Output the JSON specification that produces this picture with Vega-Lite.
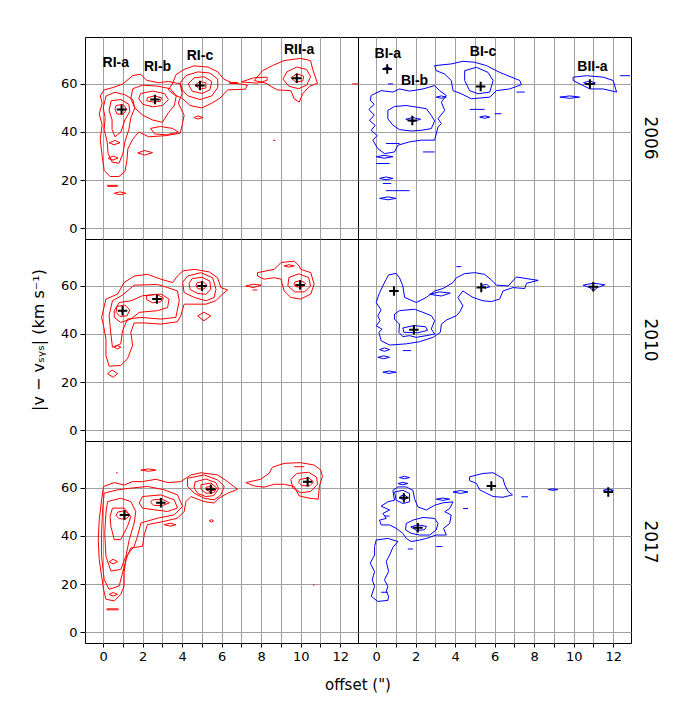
{
"$schema": "https://vega.github.io/schema/vega-lite/v6.json",
"padding": {"left": 30, "top": 36, "right": 5, "bottom": 5},
"background": "white",
"bounds": "flush",
"data": {"values": [
{"r":"2006","s":"R","c":"a1","x":0.05,"y":57.5},{"r":"2006","s":"R","c":"a1","x":0.5,"y":58.5},{"r":"2006","s":"R","c":"a1","x":1.0,"y":60},{"r":"2006","s":"R","c":"a1","x":1.5,"y":63.5},{"r":"2006","s":"R","c":"a1","x":1.9,"y":64},{"r":"2006","s":"R","c":"a1","x":2.2,"y":61.5},{"r":"2006","s":"R","c":"a1","x":2.8,"y":60.5},{"r":"2006","s":"R","c":"a1","x":3.3,"y":61},{"r":"2006","s":"R","c":"a1","x":3.9,"y":60},{"r":"2006","s":"R","c":"a1","x":4.0,"y":56},{"r":"2006","s":"R","c":"a1","x":3.8,"y":52},{"r":"2006","s":"R","c":"a1","x":4.1,"y":47},{"r":"2006","s":"R","c":"a1","x":4.0,"y":43},{"r":"2006","s":"R","c":"a1","x":3.9,"y":39.5},{"r":"2006","s":"R","c":"a1","x":3.2,"y":38.5},{"r":"2006","s":"R","c":"a1","x":2.3,"y":38},{"r":"2006","s":"R","c":"a1","x":1.8,"y":40},{"r":"2006","s":"R","c":"a1","x":1.5,"y":37},{"r":"2006","s":"R","c":"a1","x":1.25,"y":33},{"r":"2006","s":"R","c":"a1","x":1.2,"y":28},{"r":"2006","s":"R","c":"a1","x":1.1,"y":23.5},{"r":"2006","s":"R","c":"a1","x":0.8,"y":21.5},{"r":"2006","s":"R","c":"a1","x":0.35,"y":21.5},{"r":"2006","s":"R","c":"a1","x":0.05,"y":24},{"r":"2006","s":"R","c":"a1","x":-0.05,"y":30},{"r":"2006","s":"R","c":"a1","x":-0.15,"y":37},{"r":"2006","s":"R","c":"a1","x":-0.05,"y":43},{"r":"2006","s":"R","c":"a1","x":-0.2,"y":47.5},{"r":"2006","s":"R","c":"a1","x":-0.05,"y":52},{"r":"2006","s":"R","c":"a1","x":-0.15,"y":55},{"r":"2006","s":"R","c":"a1","x":0.05,"y":57.5},
{"r":"2006","s":"R","c":"a2","x":0.15,"y":55},{"r":"2006","s":"R","c":"a2","x":0.6,"y":56.5},{"r":"2006","s":"R","c":"a2","x":1.1,"y":55.5},{"r":"2006","s":"R","c":"a2","x":1.5,"y":53.5},{"r":"2006","s":"R","c":"a2","x":1.6,"y":50},{"r":"2006","s":"R","c":"a2","x":1.4,"y":46},{"r":"2006","s":"R","c":"a2","x":1.3,"y":41},{"r":"2006","s":"R","c":"a2","x":1.1,"y":36},{"r":"2006","s":"R","c":"a2","x":1.0,"y":31},{"r":"2006","s":"R","c":"a2","x":0.8,"y":27},{"r":"2006","s":"R","c":"a2","x":0.45,"y":27.5},{"r":"2006","s":"R","c":"a2","x":0.25,"y":31},{"r":"2006","s":"R","c":"a2","x":0.2,"y":36},{"r":"2006","s":"R","c":"a2","x":0.05,"y":41},{"r":"2006","s":"R","c":"a2","x":0.1,"y":46},{"r":"2006","s":"R","c":"a2","x":0.0,"y":50},{"r":"2006","s":"R","c":"a2","x":0.15,"y":55},
{"r":"2006","s":"R","c":"a3","x":0.4,"y":53},{"r":"2006","s":"R","c":"a3","x":0.9,"y":53.5},{"r":"2006","s":"R","c":"a3","x":1.3,"y":51.5},{"r":"2006","s":"R","c":"a3","x":1.35,"y":48.5},{"r":"2006","s":"R","c":"a3","x":1.1,"y":45},{"r":"2006","s":"R","c":"a3","x":0.9,"y":40},{"r":"2006","s":"R","c":"a3","x":0.6,"y":38},{"r":"2006","s":"R","c":"a3","x":0.45,"y":41},{"r":"2006","s":"R","c":"a3","x":0.45,"y":45},{"r":"2006","s":"R","c":"a3","x":0.3,"y":49},{"r":"2006","s":"R","c":"a3","x":0.4,"y":53},
{"r":"2006","s":"R","c":"a4","x":0.65,"y":51},{"r":"2006","s":"R","c":"a4","x":1.0,"y":51.5},{"r":"2006","s":"R","c":"a4","x":1.2,"y":49.5},{"r":"2006","s":"R","c":"a4","x":1.0,"y":47.3},{"r":"2006","s":"R","c":"a4","x":0.7,"y":47.5},{"r":"2006","s":"R","c":"a4","x":0.6,"y":49.5},{"r":"2006","s":"R","c":"a4","x":0.65,"y":51},
{"r":"2006","s":"R","c":"a5","x":0.25,"y":29},{"r":"2006","s":"R","c":"a5","x":0.5,"y":30},{"r":"2006","s":"R","c":"a5","x":0.75,"y":29.2},{"r":"2006","s":"R","c":"a5","x":0.5,"y":28.3},{"r":"2006","s":"R","c":"a5","x":0.25,"y":29},
{"r":"2006","s":"R","c":"a6","x":0.3,"y":35.5},{"r":"2006","s":"R","c":"a6","x":0.6,"y":36.5},{"r":"2006","s":"R","c":"a6","x":0.85,"y":35.5},{"r":"2006","s":"R","c":"a6","x":0.55,"y":34.7},{"r":"2006","s":"R","c":"a6","x":0.3,"y":35.5},
{"r":"2006","s":"R","c":"a7","x":1.5,"y":58},{"r":"2006","s":"R","c":"a7","x":2.0,"y":59.5},{"r":"2006","s":"R","c":"a7","x":2.8,"y":59},{"r":"2006","s":"R","c":"a7","x":3.4,"y":58},{"r":"2006","s":"R","c":"a7","x":3.7,"y":55},{"r":"2006","s":"R","c":"a7","x":3.6,"y":51},{"r":"2006","s":"R","c":"a7","x":3.3,"y":48},{"r":"2006","s":"R","c":"a7","x":3.0,"y":44},{"r":"2006","s":"R","c":"a7","x":2.5,"y":45},{"r":"2006","s":"R","c":"a7","x":2.0,"y":47},{"r":"2006","s":"R","c":"a7","x":1.6,"y":50},{"r":"2006","s":"R","c":"a7","x":1.4,"y":54},{"r":"2006","s":"R","c":"a7","x":1.5,"y":58},
{"r":"2006","s":"R","c":"a8","x":1.9,"y":56},{"r":"2006","s":"R","c":"a8","x":2.5,"y":57},{"r":"2006","s":"R","c":"a8","x":3.1,"y":56},{"r":"2006","s":"R","c":"a8","x":3.3,"y":53.5},{"r":"2006","s":"R","c":"a8","x":3.0,"y":51},{"r":"2006","s":"R","c":"a8","x":2.5,"y":50.5},{"r":"2006","s":"R","c":"a8","x":2.0,"y":51.5},{"r":"2006","s":"R","c":"a8","x":1.8,"y":54},{"r":"2006","s":"R","c":"a8","x":1.9,"y":56},
{"r":"2006","s":"R","c":"a9","x":2.25,"y":54.3},{"r":"2006","s":"R","c":"a9","x":2.6,"y":55},{"r":"2006","s":"R","c":"a9","x":2.95,"y":54.2},{"r":"2006","s":"R","c":"a9","x":2.9,"y":52.8},{"r":"2006","s":"R","c":"a9","x":2.55,"y":52.4},{"r":"2006","s":"R","c":"a9","x":2.2,"y":53},{"r":"2006","s":"R","c":"a9","x":2.25,"y":54.3},
{"r":"2006","s":"R","c":"a10","x":2.4,"y":41.5},{"r":"2006","s":"R","c":"a10","x":2.9,"y":42.3},{"r":"2006","s":"R","c":"a10","x":3.5,"y":41.5},{"r":"2006","s":"R","c":"a10","x":3.8,"y":40},{"r":"2006","s":"R","c":"a10","x":3.2,"y":38.8},{"r":"2006","s":"R","c":"a10","x":2.6,"y":39.2},{"r":"2006","s":"R","c":"a10","x":2.4,"y":41.5},
{"r":"2006","s":"R","c":"a11","x":1.75,"y":31.3},{"r":"2006","s":"R","c":"a11","x":2.1,"y":32.3},{"r":"2006","s":"R","c":"a11","x":2.5,"y":31.4},{"r":"2006","s":"R","c":"a11","x":2.1,"y":30.4},{"r":"2006","s":"R","c":"a11","x":1.75,"y":31.3},
{"r":"2006","s":"R","c":"a12","x":0.22,"y":17.8},{"r":"2006","s":"R","c":"a12","x":0.72,"y":17.8},{"r":"2006","s":"R","c":"a12","x":0.72,"y":17.4},{"r":"2006","s":"R","c":"a12","x":0.22,"y":17.4},{"r":"2006","s":"R","c":"a12","x":0.22,"y":17.8},
{"r":"2006","s":"R","c":"a13","x":0.56,"y":14.5},{"r":"2006","s":"R","c":"a13","x":0.85,"y":15.1},{"r":"2006","s":"R","c":"a13","x":1.15,"y":14.5},{"r":"2006","s":"R","c":"a13","x":0.85,"y":13.9},{"r":"2006","s":"R","c":"a13","x":0.56,"y":14.5},
{"r":"2006","s":"R","c":"a14","x":3.5,"y":60},{"r":"2006","s":"R","c":"a14","x":3.7,"y":64},{"r":"2006","s":"R","c":"a14","x":4.1,"y":66},{"r":"2006","s":"R","c":"a14","x":4.6,"y":67.5},{"r":"2006","s":"R","c":"a14","x":5.3,"y":67},{"r":"2006","s":"R","c":"a14","x":5.8,"y":65},{"r":"2006","s":"R","c":"a14","x":6.1,"y":62},{"r":"2006","s":"R","c":"a14","x":6.5,"y":60.5},{"r":"2006","s":"R","c":"a14","x":7.3,"y":59.5},{"r":"2006","s":"R","c":"a14","x":7.2,"y":57.8},{"r":"2006","s":"R","c":"a14","x":6.3,"y":57.5},{"r":"2006","s":"R","c":"a14","x":5.9,"y":54},{"r":"2006","s":"R","c":"a14","x":5.5,"y":52},{"r":"2006","s":"R","c":"a14","x":5.0,"y":50},{"r":"2006","s":"R","c":"a14","x":4.4,"y":51},{"r":"2006","s":"R","c":"a14","x":4.0,"y":54},{"r":"2006","s":"R","c":"a14","x":3.6,"y":55.5},{"r":"2006","s":"R","c":"a14","x":3.3,"y":57.5},{"r":"2006","s":"R","c":"a14","x":3.5,"y":60},
{"r":"2006","s":"R","c":"a15","x":3.9,"y":60.5},{"r":"2006","s":"R","c":"a15","x":4.2,"y":63.5},{"r":"2006","s":"R","c":"a15","x":4.8,"y":65},{"r":"2006","s":"R","c":"a15","x":5.4,"y":64.5},{"r":"2006","s":"R","c":"a15","x":5.8,"y":62},{"r":"2006","s":"R","c":"a15","x":5.8,"y":58.5},{"r":"2006","s":"R","c":"a15","x":5.5,"y":55},{"r":"2006","s":"R","c":"a15","x":4.9,"y":53.5},{"r":"2006","s":"R","c":"a15","x":4.3,"y":55},{"r":"2006","s":"R","c":"a15","x":4.0,"y":57.5},{"r":"2006","s":"R","c":"a15","x":3.9,"y":60.5},
{"r":"2006","s":"R","c":"a16","x":4.3,"y":60},{"r":"2006","s":"R","c":"a16","x":4.6,"y":62.5},{"r":"2006","s":"R","c":"a16","x":5.1,"y":63},{"r":"2006","s":"R","c":"a16","x":5.5,"y":61},{"r":"2006","s":"R","c":"a16","x":5.4,"y":57.5},{"r":"2006","s":"R","c":"a16","x":5.0,"y":56},{"r":"2006","s":"R","c":"a16","x":4.5,"y":57},{"r":"2006","s":"R","c":"a16","x":4.3,"y":60},
{"r":"2006","s":"R","c":"a17","x":4.65,"y":59.5},{"r":"2006","s":"R","c":"a17","x":4.9,"y":61},{"r":"2006","s":"R","c":"a17","x":5.2,"y":60.5},{"r":"2006","s":"R","c":"a17","x":5.2,"y":58.3},{"r":"2006","s":"R","c":"a17","x":4.9,"y":57.8},{"r":"2006","s":"R","c":"a17","x":4.65,"y":59.5},
{"r":"2006","s":"R","c":"a18","x":4.6,"y":46},{"r":"2006","s":"R","c":"a18","x":4.8,"y":46.7},{"r":"2006","s":"R","c":"a18","x":5.05,"y":46},{"r":"2006","s":"R","c":"a18","x":4.8,"y":45.4},{"r":"2006","s":"R","c":"a18","x":4.6,"y":46},
{"r":"2006","s":"R","c":"a19","x":6.4,"y":60.6},{"r":"2006","s":"R","c":"a19","x":6.8,"y":60.6},{"r":"2006","s":"R","c":"a19","x":6.8,"y":60.2},{"r":"2006","s":"R","c":"a19","x":6.4,"y":60.2},{"r":"2006","s":"R","c":"a19","x":6.4,"y":60.6},
{"r":"2006","s":"R","c":"a20","x":7.0,"y":60.8},{"r":"2006","s":"R","c":"a20","x":7.6,"y":62.5},{"r":"2006","s":"R","c":"a20","x":8.3,"y":62.8},{"r":"2006","s":"R","c":"a20","x":8.3,"y":61.5},{"r":"2006","s":"R","c":"a20","x":7.8,"y":60.3},{"r":"2006","s":"R","c":"a20","x":7.0,"y":60.8},
{"r":"2006","s":"R","c":"a21","x":7.65,"y":61.4},{"r":"2006","s":"R","c":"a21","x":8.07,"y":65.5},{"r":"2006","s":"R","c":"a21","x":8.57,"y":67.6},{"r":"2006","s":"R","c":"a21","x":9.16,"y":69.7},{"r":"2006","s":"R","c":"a21","x":10.0,"y":70.6},{"r":"2006","s":"R","c":"a21","x":10.5,"y":69.7},{"r":"2006","s":"R","c":"a21","x":10.6,"y":66.2},{"r":"2006","s":"R","c":"a21","x":10.85,"y":60.3},{"r":"2006","s":"R","c":"a21","x":10.43,"y":58.9},{"r":"2006","s":"R","c":"a21","x":10.1,"y":55.9},{"r":"2006","s":"R","c":"a21","x":9.92,"y":52.4},{"r":"2006","s":"R","c":"a21","x":9.67,"y":53.8},{"r":"2006","s":"R","c":"a21","x":9.5,"y":57.2},{"r":"2006","s":"R","c":"a21","x":8.83,"y":57.5},{"r":"2006","s":"R","c":"a21","x":8.5,"y":58.9},{"r":"2006","s":"R","c":"a21","x":8.24,"y":60.3},{"r":"2006","s":"R","c":"a21","x":7.65,"y":61.4},
{"r":"2006","s":"R","c":"a22","x":9.1,"y":62},{"r":"2006","s":"R","c":"a22","x":9.3,"y":65},{"r":"2006","s":"R","c":"a22","x":9.8,"y":67},{"r":"2006","s":"R","c":"a22","x":10.3,"y":66},{"r":"2006","s":"R","c":"a22","x":10.5,"y":63},{"r":"2006","s":"R","c":"a22","x":10.3,"y":59.5},{"r":"2006","s":"R","c":"a22","x":9.9,"y":58},{"r":"2006","s":"R","c":"a22","x":9.4,"y":59},{"r":"2006","s":"R","c":"a22","x":9.1,"y":62},
{"r":"2006","s":"R","c":"a23","x":9.5,"y":62.5},{"r":"2006","s":"R","c":"a23","x":9.8,"y":64.2},{"r":"2006","s":"R","c":"a23","x":10.15,"y":63.2},{"r":"2006","s":"R","c":"a23","x":10.1,"y":61.2},{"r":"2006","s":"R","c":"a23","x":9.75,"y":60.8},{"r":"2006","s":"R","c":"a23","x":9.5,"y":62.5},
{"r":"2006","s":"R","c":"a24","x":8.6,"y":36.5},{"r":"2006","s":"R","c":"a24","x":8.72,"y":36.5},
{"r":"2006","s":"R","c":"a25","x":12.6,"y":60},{"r":"2006","s":"R","c":"a25","x":12.9,"y":60},
{"r":"2006","s":"R","m":1,"x":0.93,"y":49.4},{"r":"2006","s":"R","m":1,"x":2.62,"y":53.5},{"r":"2006","s":"R","m":1,"x":4.9,"y":59.3},{"r":"2006","s":"R","m":1,"x":9.8,"y":62.3},
{"r":"2006","s":"R","t":"RI-a","x":0.64,"y":68.7},{"r":"2006","s":"R","t":"RI-b","x":2.75,"y":67.2},{"r":"2006","s":"R","t":"RI-c","x":4.9,"y":71.7},{"r":"2006","s":"R","t":"RII-a","x":9.92,"y":74},

{"r":"2006","s":"B","c":"b1","x":-0.37,"y":49.4},{"r":"2006","s":"B","c":"b1","x":-0.1,"y":51.5},{"r":"2006","s":"B","c":"b1","x":-0.3,"y":53.2},{"r":"2006","s":"B","c":"b1","x":-0.25,"y":55.2},{"r":"2006","s":"B","c":"b1","x":0.25,"y":57.2},{"r":"2006","s":"B","c":"b1","x":0.85,"y":56.6},{"r":"2006","s":"B","c":"b1","x":1.18,"y":57.9},{"r":"2006","s":"B","c":"b1","x":1.7,"y":57},{"r":"2006","s":"B","c":"b1","x":2.37,"y":57.9},{"r":"2006","s":"B","c":"b1","x":2.96,"y":59.3},{"r":"2006","s":"B","c":"b1","x":3.21,"y":57.2},{"r":"2006","s":"B","c":"b1","x":3.55,"y":55.2},{"r":"2006","s":"B","c":"b1","x":3.3,"y":52.4},{"r":"2006","s":"B","c":"b1","x":3.47,"y":49},{"r":"2006","s":"B","c":"b1","x":3.13,"y":45.5},{"r":"2006","s":"B","c":"b1","x":3.3,"y":43.5},{"r":"2006","s":"B","c":"b1","x":3.13,"y":42.1},{"r":"2006","s":"B","c":"b1","x":2.96,"y":36.6},{"r":"2006","s":"B","c":"b1","x":2.28,"y":36.6},{"r":"2006","s":"B","c":"b1","x":1.69,"y":35.9},{"r":"2006","s":"B","c":"b1","x":1.1,"y":34.5},{"r":"2006","s":"B","c":"b1","x":0.93,"y":31.7},{"r":"2006","s":"B","c":"b1","x":0.42,"y":31},{"r":"2006","s":"B","c":"b1","x":0.08,"y":33.1},{"r":"2006","s":"B","c":"b1","x":-0.17,"y":36.6},{"r":"2006","s":"B","c":"b1","x":0.05,"y":38.5},{"r":"2006","s":"B","c":"b1","x":-0.25,"y":40.7},{"r":"2006","s":"B","c":"b1","x":-0.05,"y":42.8},{"r":"2006","s":"B","c":"b1","x":-0.34,"y":44.8},{"r":"2006","s":"B","c":"b1","x":-0.1,"y":47},{"r":"2006","s":"B","c":"b1","x":-0.37,"y":49.4},
{"r":"2006","s":"B","c":"b2","x":0.59,"y":49},{"r":"2006","s":"B","c":"b2","x":0.93,"y":50.6},{"r":"2006","s":"B","c":"b2","x":1.52,"y":51},{"r":"2006","s":"B","c":"b2","x":2.54,"y":49.7},{"r":"2006","s":"B","c":"b2","x":2.79,"y":46.9},{"r":"2006","s":"B","c":"b2","x":2.96,"y":44.6},{"r":"2006","s":"B","c":"b2","x":2.79,"y":41.4},{"r":"2006","s":"B","c":"b2","x":2.28,"y":40.7},{"r":"2006","s":"B","c":"b2","x":1.77,"y":40.4},{"r":"2006","s":"B","c":"b2","x":1.18,"y":41},{"r":"2006","s":"B","c":"b2","x":0.85,"y":42.8},{"r":"2006","s":"B","c":"b2","x":0.59,"y":45.5},{"r":"2006","s":"B","c":"b2","x":0.59,"y":49},
{"r":"2006","s":"B","c":"b3","x":1.5,"y":45.3},{"r":"2006","s":"B","c":"b3","x":1.85,"y":46},{"r":"2006","s":"B","c":"b3","x":2.25,"y":45.3},{"r":"2006","s":"B","c":"b3","x":1.85,"y":44.3},{"r":"2006","s":"B","c":"b3","x":1.5,"y":45.3},
{"r":"2006","s":"B","c":"b4","x":2.96,"y":67.6},{"r":"2006","s":"B","c":"b4","x":3.8,"y":68.3},{"r":"2006","s":"B","c":"b4","x":4.39,"y":69.4},{"r":"2006","s":"B","c":"b4","x":4.99,"y":69},{"r":"2006","s":"B","c":"b4","x":5.58,"y":67.6},{"r":"2006","s":"B","c":"b4","x":6.25,"y":64.8},{"r":"2006","s":"B","c":"b4","x":7.27,"y":61.4},{"r":"2006","s":"B","c":"b4","x":7.35,"y":59.7},{"r":"2006","s":"B","c":"b4","x":6.76,"y":57.9},{"r":"2006","s":"B","c":"b4","x":6.09,"y":57.2},{"r":"2006","s":"B","c":"b4","x":5.75,"y":54.5},{"r":"2006","s":"B","c":"b4","x":4.82,"y":53.8},{"r":"2006","s":"B","c":"b4","x":4.31,"y":55.9},{"r":"2006","s":"B","c":"b4","x":3.89,"y":57.2},{"r":"2006","s":"B","c":"b4","x":3.8,"y":61.4},{"r":"2006","s":"B","c":"b4","x":3.47,"y":64.1},{"r":"2006","s":"B","c":"b4","x":3.04,"y":65.5},{"r":"2006","s":"B","c":"b4","x":2.96,"y":67.6},
{"r":"2006","s":"B","c":"b5","x":4.48,"y":65.5},{"r":"2006","s":"B","c":"b5","x":5.07,"y":66.9},{"r":"2006","s":"B","c":"b5","x":5.66,"y":64.8},{"r":"2006","s":"B","c":"b5","x":5.92,"y":61.4},{"r":"2006","s":"B","c":"b5","x":5.75,"y":56.6},{"r":"2006","s":"B","c":"b5","x":5.16,"y":55.9},{"r":"2006","s":"B","c":"b5","x":4.73,"y":57.2},{"r":"2006","s":"B","c":"b5","x":4.48,"y":61.4},{"r":"2006","s":"B","c":"b5","x":4.48,"y":65.5},
{"r":"2006","s":"B","c":"b6","x":7.1,"y":56.6},{"r":"2006","s":"B","c":"b6","x":7.52,"y":56.6},
{"r":"2006","s":"B","c":"b7","x":4.73,"y":49.4},{"r":"2006","s":"B","c":"b7","x":5.49,"y":49.4},
{"r":"2006","s":"B","c":"b8","x":6.0,"y":47.6},{"r":"2006","s":"B","c":"b8","x":6.34,"y":47.6},
{"r":"2006","s":"B","c":"b9","x":5.24,"y":46.2},{"r":"2006","s":"B","c":"b9","x":5.5,"y":46.7},{"r":"2006","s":"B","c":"b9","x":5.75,"y":46.2},{"r":"2006","s":"B","c":"b9","x":5.5,"y":45.7},{"r":"2006","s":"B","c":"b9","x":5.24,"y":46.2},
{"r":"2006","s":"B","c":"b10","x":3.04,"y":54.5},{"r":"2006","s":"B","c":"b10","x":3.3,"y":55},{"r":"2006","s":"B","c":"b10","x":3.55,"y":54.5},{"r":"2006","s":"B","c":"b10","x":3.3,"y":54},{"r":"2006","s":"B","c":"b10","x":3.04,"y":54.5},
{"r":"2006","s":"B","c":"b11","x":9.3,"y":54.5},{"r":"2006","s":"B","c":"b11","x":9.8,"y":55},{"r":"2006","s":"B","c":"b11","x":10.3,"y":54.5},{"r":"2006","s":"B","c":"b11","x":9.8,"y":54},{"r":"2006","s":"B","c":"b11","x":9.3,"y":54.5},
{"r":"2006","s":"B","c":"b12","x":12.34,"y":63.4},{"r":"2006","s":"B","c":"b12","x":12.85,"y":63.4},
{"r":"2006","s":"B","c":"b13","x":9.97,"y":62.8},{"r":"2006","s":"B","c":"b13","x":10.65,"y":63.4},{"r":"2006","s":"B","c":"b13","x":11.49,"y":62.8},{"r":"2006","s":"B","c":"b13","x":12.0,"y":61.4},{"r":"2006","s":"B","c":"b13","x":12.17,"y":56.6},{"r":"2006","s":"B","c":"b13","x":11.49,"y":57.9},{"r":"2006","s":"B","c":"b13","x":10.82,"y":57.9},{"r":"2006","s":"B","c":"b13","x":10.31,"y":60},{"r":"2006","s":"B","c":"b13","x":9.97,"y":61.4},{"r":"2006","s":"B","c":"b13","x":9.97,"y":62.8},
{"r":"2006","s":"B","c":"b14","x":10.5,"y":60.5},{"r":"2006","s":"B","c":"b14","x":10.8,"y":61.2},{"r":"2006","s":"B","c":"b14","x":11.1,"y":60.4},{"r":"2006","s":"B","c":"b14","x":10.8,"y":59.4},{"r":"2006","s":"B","c":"b14","x":10.5,"y":60.5},
{"r":"2006","s":"B","c":"b15","x":0.6,"y":60},{"r":"2006","s":"B","c":"b15","x":0.85,"y":60},
{"r":"2006","s":"B","c":"b16","x":0.4,"y":66.5},{"r":"2006","s":"B","c":"b16","x":0.56,"y":67},{"r":"2006","s":"B","c":"b16","x":0.72,"y":66.5},{"r":"2006","s":"B","c":"b16","x":0.56,"y":66},{"r":"2006","s":"B","c":"b16","x":0.4,"y":66.5},
{"r":"2006","s":"B","c":"b17","x":0.17,"y":20.7},{"r":"2006","s":"B","c":"b17","x":0.5,"y":21.3},{"r":"2006","s":"B","c":"b17","x":0.85,"y":20.7},{"r":"2006","s":"B","c":"b17","x":0.5,"y":20.1},{"r":"2006","s":"B","c":"b17","x":0.17,"y":20.7},
{"r":"2006","s":"B","c":"b18","x":0.34,"y":18.6},{"r":"2006","s":"B","c":"b18","x":0.76,"y":18.6},
{"r":"2006","s":"B","c":"b19","x":0.5,"y":15.6},{"r":"2006","s":"B","c":"b19","x":1.69,"y":15.6},
{"r":"2006","s":"B","c":"b20","x":0.17,"y":12.4},{"r":"2006","s":"B","c":"b20","x":0.6,"y":13},{"r":"2006","s":"B","c":"b20","x":1.0,"y":12.4},{"r":"2006","s":"B","c":"b20","x":0.6,"y":11.8},{"r":"2006","s":"B","c":"b20","x":0.17,"y":12.4},
{"r":"2006","s":"B","c":"b21","x":0,"y":29.7},{"r":"2006","s":"B","c":"b21","x":0.4,"y":30.3},{"r":"2006","s":"B","c":"b21","x":0.85,"y":29.7},{"r":"2006","s":"B","c":"b21","x":0.4,"y":29.1},{"r":"2006","s":"B","c":"b21","x":0,"y":29.7},
{"r":"2006","s":"B","c":"b22","x":0,"y":26.9},{"r":"2006","s":"B","c":"b22","x":0.68,"y":26.9},
{"r":"2006","s":"B","c":"b23","x":0.5,"y":35.2},{"r":"2006","s":"B","c":"b23","x":1.18,"y":35.2},
{"r":"2006","s":"B","c":"b24","x":2.37,"y":31.7},{"r":"2006","s":"B","c":"b24","x":2.96,"y":31.7},
{"r":"2006","s":"B","m":1,"x":0.56,"y":66.2},{"r":"2006","s":"B","m":1,"x":1.83,"y":44.8},{"r":"2006","s":"B","m":1,"x":5.29,"y":58.9},{"r":"2006","s":"B","m":1,"x":10.82,"y":60},
{"r":"2006","s":"B","t":"BI-a","x":0.59,"y":72.4},{"r":"2006","s":"B","t":"BI-b","x":1.94,"y":61.1},{"r":"2006","s":"B","t":"BI-c","x":5.41,"y":73.1},{"r":"2006","s":"B","t":"BII-a","x":10.95,"y":67.2},

{"r":"2010","s":"R","c":"c1","x":-0.08,"y":46.9},{"r":"2010","s":"R","c":"c1","x":0.14,"y":54.5},{"r":"2010","s":"R","c":"c1","x":0.73,"y":56.6},{"r":"2010","s":"R","c":"c1","x":1.06,"y":61.4},{"r":"2010","s":"R","c":"c1","x":1.57,"y":64.1},{"r":"2010","s":"R","c":"c1","x":2.24,"y":64.8},{"r":"2010","s":"R","c":"c1","x":2.92,"y":62.8},{"r":"2010","s":"R","c":"c1","x":3.51,"y":61.4},{"r":"2010","s":"R","c":"c1","x":3.76,"y":64.1},{"r":"2010","s":"R","c":"c1","x":4.02,"y":66.2},{"r":"2010","s":"R","c":"c1","x":4.61,"y":66.9},{"r":"2010","s":"R","c":"c1","x":5.37,"y":65.8},{"r":"2010","s":"R","c":"c1","x":5.79,"y":63.4},{"r":"2010","s":"R","c":"c1","x":5.96,"y":59.3},{"r":"2010","s":"R","c":"c1","x":6.3,"y":58.3},{"r":"2010","s":"R","c":"c1","x":6.04,"y":56.6},{"r":"2010","s":"R","c":"c1","x":5.7,"y":53.8},{"r":"2010","s":"R","c":"c1","x":5.2,"y":52.4},{"r":"2010","s":"R","c":"c1","x":4.69,"y":52.4},{"r":"2010","s":"R","c":"c1","x":4.1,"y":52.4},{"r":"2010","s":"R","c":"c1","x":3.93,"y":47.6},{"r":"2010","s":"R","c":"c1","x":3.76,"y":45.1},{"r":"2010","s":"R","c":"c1","x":2.92,"y":44.1},{"r":"2010","s":"R","c":"c1","x":2.08,"y":44.6},{"r":"2010","s":"R","c":"c1","x":1.57,"y":44.6},{"r":"2010","s":"R","c":"c1","x":1.4,"y":40.7},{"r":"2010","s":"R","c":"c1","x":1.49,"y":35.2},{"r":"2010","s":"R","c":"c1","x":1.23,"y":29.7},{"r":"2010","s":"R","c":"c1","x":0.89,"y":26.9},{"r":"2010","s":"R","c":"c1","x":0.3,"y":26.6},{"r":"2010","s":"R","c":"c1","x":0.14,"y":31},{"r":"2010","s":"R","c":"c1","x":0.14,"y":37.9},{"r":"2010","s":"R","c":"c1","x":0.02,"y":43.4},{"r":"2010","s":"R","c":"c1","x":-0.08,"y":46.9},
{"r":"2010","s":"R","c":"c2","x":0.3,"y":47.6},{"r":"2010","s":"R","c":"c2","x":0.47,"y":53.8},{"r":"2010","s":"R","c":"c2","x":0.98,"y":56.2},{"r":"2010","s":"R","c":"c2","x":1.57,"y":60.3},{"r":"2010","s":"R","c":"c2","x":2.75,"y":60.6},{"r":"2010","s":"R","c":"c2","x":3.26,"y":59.3},{"r":"2010","s":"R","c":"c2","x":3.76,"y":57.9},{"r":"2010","s":"R","c":"c2","x":3.85,"y":53.8},{"r":"2010","s":"R","c":"c2","x":3.68,"y":46.9},{"r":"2010","s":"R","c":"c2","x":2.92,"y":46.2},{"r":"2010","s":"R","c":"c2","x":1.91,"y":46.9},{"r":"2010","s":"R","c":"c2","x":1.23,"y":46.2},{"r":"2010","s":"R","c":"c2","x":0.98,"y":41.4},{"r":"2010","s":"R","c":"c2","x":0.89,"y":35.9},{"r":"2010","s":"R","c":"c2","x":0.47,"y":34.5},{"r":"2010","s":"R","c":"c2","x":0.39,"y":40},{"r":"2010","s":"R","c":"c2","x":0.3,"y":47.6},
{"r":"2010","s":"R","c":"c3","x":0.56,"y":49.7},{"r":"2010","s":"R","c":"c3","x":0.81,"y":53.1},{"r":"2010","s":"R","c":"c3","x":1.4,"y":53.8},{"r":"2010","s":"R","c":"c3","x":1.99,"y":55.9},{"r":"2010","s":"R","c":"c3","x":2.92,"y":56.6},{"r":"2010","s":"R","c":"c3","x":3.34,"y":54.5},{"r":"2010","s":"R","c":"c3","x":3.26,"y":51},{"r":"2010","s":"R","c":"c3","x":2.75,"y":49.7},{"r":"2010","s":"R","c":"c3","x":1.82,"y":49},{"r":"2010","s":"R","c":"c3","x":1.4,"y":46.2},{"r":"2010","s":"R","c":"c3","x":0.89,"y":44.8},{"r":"2010","s":"R","c":"c3","x":0.56,"y":46.9},{"r":"2010","s":"R","c":"c3","x":0.56,"y":49.7},
{"r":"2010","s":"R","c":"c4","x":0.7,"y":51.5},{"r":"2010","s":"R","c":"c4","x":1.1,"y":52},{"r":"2010","s":"R","c":"c4","x":1.35,"y":50},{"r":"2010","s":"R","c":"c4","x":1.2,"y":47.5},{"r":"2010","s":"R","c":"c4","x":0.85,"y":47.3},{"r":"2010","s":"R","c":"c4","x":0.65,"y":49},{"r":"2010","s":"R","c":"c4","x":0.7,"y":51.5},
{"r":"2010","s":"R","c":"c5","x":2.2,"y":56},{"r":"2010","s":"R","c":"c5","x":2.7,"y":56.5},{"r":"2010","s":"R","c":"c5","x":3.05,"y":55},{"r":"2010","s":"R","c":"c5","x":2.9,"y":53.3},{"r":"2010","s":"R","c":"c5","x":2.5,"y":53},{"r":"2010","s":"R","c":"c5","x":2.2,"y":54.3},{"r":"2010","s":"R","c":"c5","x":2.2,"y":56},
{"r":"2010","s":"R","c":"c6","x":4.27,"y":64.1},{"r":"2010","s":"R","c":"c6","x":4.94,"y":65.5},{"r":"2010","s":"R","c":"c6","x":5.54,"y":63.4},{"r":"2010","s":"R","c":"c6","x":5.71,"y":58.6},{"r":"2010","s":"R","c":"c6","x":5.62,"y":55.2},{"r":"2010","s":"R","c":"c6","x":5.2,"y":53.8},{"r":"2010","s":"R","c":"c6","x":4.61,"y":55.2},{"r":"2010","s":"R","c":"c6","x":4.1,"y":57.2},{"r":"2010","s":"R","c":"c6","x":4.02,"y":61.4},{"r":"2010","s":"R","c":"c6","x":4.27,"y":64.1},
{"r":"2010","s":"R","c":"c7","x":4.5,"y":63},{"r":"2010","s":"R","c":"c7","x":5.0,"y":63.6},{"r":"2010","s":"R","c":"c7","x":5.4,"y":62},{"r":"2010","s":"R","c":"c7","x":5.45,"y":58.5},{"r":"2010","s":"R","c":"c7","x":5.2,"y":56.5},{"r":"2010","s":"R","c":"c7","x":4.8,"y":56.8},{"r":"2010","s":"R","c":"c7","x":4.4,"y":58.5},{"r":"2010","s":"R","c":"c7","x":4.35,"y":61},{"r":"2010","s":"R","c":"c7","x":4.5,"y":63},
{"r":"2010","s":"R","c":"c8","x":4.75,"y":61.3},{"r":"2010","s":"R","c":"c8","x":5.05,"y":61.8},{"r":"2010","s":"R","c":"c8","x":5.25,"y":60.3},{"r":"2010","s":"R","c":"c8","x":5.1,"y":58.7},{"r":"2010","s":"R","c":"c8","x":4.8,"y":58.8},{"r":"2010","s":"R","c":"c8","x":4.7,"y":60},{"r":"2010","s":"R","c":"c8","x":4.75,"y":61.3},
{"r":"2010","s":"R","c":"c9","x":4.78,"y":47.5},{"r":"2010","s":"R","c":"c9","x":5.1,"y":49},{"r":"2010","s":"R","c":"c9","x":5.45,"y":47.5},{"r":"2010","s":"R","c":"c9","x":5.1,"y":45.5},{"r":"2010","s":"R","c":"c9","x":4.78,"y":47.5},
{"r":"2010","s":"R","c":"c10","x":0.22,"y":23.5},{"r":"2010","s":"R","c":"c10","x":0.45,"y":25},{"r":"2010","s":"R","c":"c10","x":0.73,"y":23.5},{"r":"2010","s":"R","c":"c10","x":0.5,"y":22},{"r":"2010","s":"R","c":"c10","x":0.22,"y":23.5},
{"r":"2010","s":"R","c":"c11","x":7.22,"y":60},{"r":"2010","s":"R","c":"c11","x":7.6,"y":60.7},{"r":"2010","s":"R","c":"c11","x":8.0,"y":60.3},{"r":"2010","s":"R","c":"c11","x":7.6,"y":59.3},{"r":"2010","s":"R","c":"c11","x":7.22,"y":60},
{"r":"2010","s":"R","c":"c12","x":7.56,"y":58.3},{"r":"2010","s":"R","c":"c12","x":7.8,"y":58.3},
{"r":"2010","s":"R","c":"c13","x":7.81,"y":65.5},{"r":"2010","s":"R","c":"c13","x":8.66,"y":66.9},{"r":"2010","s":"R","c":"c13","x":9.0,"y":69.7},{"r":"2010","s":"R","c":"c13","x":9.67,"y":70.3},{"r":"2010","s":"R","c":"c13","x":9.92,"y":68.3},{"r":"2010","s":"R","c":"c13","x":10.0,"y":66.9},{"r":"2010","s":"R","c":"c13","x":10.51,"y":65.5},{"r":"2010","s":"R","c":"c13","x":10.68,"y":60.7},{"r":"2010","s":"R","c":"c13","x":10.51,"y":56.6},{"r":"2010","s":"R","c":"c13","x":10.0,"y":54.5},{"r":"2010","s":"R","c":"c13","x":9.5,"y":55.2},{"r":"2010","s":"R","c":"c13","x":9.16,"y":57.9},{"r":"2010","s":"R","c":"c13","x":9.0,"y":62.8},{"r":"2010","s":"R","c":"c13","x":8.66,"y":63.4},{"r":"2010","s":"R","c":"c13","x":8.15,"y":62.8},{"r":"2010","s":"R","c":"c13","x":7.81,"y":64.1},{"r":"2010","s":"R","c":"c13","x":7.81,"y":65.5},
{"r":"2010","s":"R","c":"c14","x":9.4,"y":63.5},{"r":"2010","s":"R","c":"c14","x":9.9,"y":65},{"r":"2010","s":"R","c":"c14","x":10.4,"y":63.5},{"r":"2010","s":"R","c":"c14","x":10.5,"y":60},{"r":"2010","s":"R","c":"c14","x":10.2,"y":57.5},{"r":"2010","s":"R","c":"c14","x":9.7,"y":57.5},{"r":"2010","s":"R","c":"c14","x":9.35,"y":60},{"r":"2010","s":"R","c":"c14","x":9.4,"y":63.5},
{"r":"2010","s":"R","c":"c15","x":9.7,"y":61.6},{"r":"2010","s":"R","c":"c15","x":10.0,"y":62.3},{"r":"2010","s":"R","c":"c15","x":10.25,"y":61},{"r":"2010","s":"R","c":"c15","x":10.1,"y":59.6},{"r":"2010","s":"R","c":"c15","x":9.8,"y":59.6},{"r":"2010","s":"R","c":"c15","x":9.65,"y":60.5},{"r":"2010","s":"R","c":"c15","x":9.7,"y":61.6},
{"r":"2010","s":"R","c":"c16","x":9.16,"y":68.3},{"r":"2010","s":"R","c":"c16","x":9.4,"y":68.8},{"r":"2010","s":"R","c":"c16","x":9.67,"y":68.3},{"r":"2010","s":"R","c":"c16","x":9.4,"y":67.8},{"r":"2010","s":"R","c":"c16","x":9.16,"y":68.3},
{"r":"2010","s":"R","c":"c17","x":0.56,"y":34.5},{"r":"2010","s":"R","c":"c17","x":0.73,"y":35.2},{"r":"2010","s":"R","c":"c17","x":0.9,"y":34.5},{"r":"2010","s":"R","c":"c17","x":0.73,"y":33.8},{"r":"2010","s":"R","c":"c17","x":0.56,"y":34.5},
{"r":"2010","s":"R","m":1,"x":0.98,"y":49.7},{"r":"2010","s":"R","m":1,"x":2.72,"y":54.5},{"r":"2010","s":"R","m":1,"x":5.0,"y":60},{"r":"2010","s":"R","m":1,"x":9.97,"y":60.4},

{"r":"2010","s":"B","c":"d1","x":0,"y":53.1},{"r":"2010","s":"B","c":"d1","x":0.17,"y":57.2},{"r":"2010","s":"B","c":"d1","x":0.51,"y":62.8},{"r":"2010","s":"B","c":"d1","x":0.63,"y":64.6},{"r":"2010","s":"B","c":"d1","x":1.01,"y":65.2},{"r":"2010","s":"B","c":"d1","x":1.18,"y":63.4},{"r":"2010","s":"B","c":"d1","x":1.35,"y":60},{"r":"2010","s":"B","c":"d1","x":1.44,"y":55.2},{"r":"2010","s":"B","c":"d1","x":2.03,"y":53.1},{"r":"2010","s":"B","c":"d1","x":2.54,"y":55.2},{"r":"2010","s":"B","c":"d1","x":2.96,"y":57.9},{"r":"2010","s":"B","c":"d1","x":3.38,"y":58.9},{"r":"2010","s":"B","c":"d1","x":3.89,"y":61.4},{"r":"2010","s":"B","c":"d1","x":4.06,"y":63.4},{"r":"2010","s":"B","c":"d1","x":4.48,"y":65.1},{"r":"2010","s":"B","c":"d1","x":4.99,"y":65.5},{"r":"2010","s":"B","c":"d1","x":5.49,"y":64.8},{"r":"2010","s":"B","c":"d1","x":5.83,"y":62.5},{"r":"2010","s":"B","c":"d1","x":6.09,"y":60.3},{"r":"2010","s":"B","c":"d1","x":6.68,"y":60},{"r":"2010","s":"B","c":"d1","x":7.1,"y":63.7},{"r":"2010","s":"B","c":"d1","x":8.2,"y":62.3},{"r":"2010","s":"B","c":"d1","x":7.61,"y":61.1},{"r":"2010","s":"B","c":"d1","x":7.52,"y":58.9},{"r":"2010","s":"B","c":"d1","x":6.93,"y":59.3},{"r":"2010","s":"B","c":"d1","x":6.42,"y":57.9},{"r":"2010","s":"B","c":"d1","x":6.25,"y":54.5},{"r":"2010","s":"B","c":"d1","x":5.83,"y":53.5},{"r":"2010","s":"B","c":"d1","x":5.41,"y":53.8},{"r":"2010","s":"B","c":"d1","x":4.9,"y":55.2},{"r":"2010","s":"B","c":"d1","x":4.39,"y":57.9},{"r":"2010","s":"B","c":"d1","x":4.14,"y":55.2},{"r":"2010","s":"B","c":"d1","x":4.39,"y":51.7},{"r":"2010","s":"B","c":"d1","x":4.23,"y":49.2},{"r":"2010","s":"B","c":"d1","x":4.06,"y":47.6},{"r":"2010","s":"B","c":"d1","x":3.58,"y":45.9},{"r":"2010","s":"B","c":"d1","x":3.3,"y":44.1},{"r":"2010","s":"B","c":"d1","x":3.25,"y":40.7},{"r":"2010","s":"B","c":"d1","x":2.87,"y":38.6},{"r":"2010","s":"B","c":"d1","x":2.2,"y":36.8},{"r":"2010","s":"B","c":"d1","x":1.52,"y":35.9},{"r":"2010","s":"B","c":"d1","x":0.68,"y":35.4},{"r":"2010","s":"B","c":"d1","x":0.25,"y":37.2},{"r":"2010","s":"B","c":"d1","x":0.14,"y":40.7},{"r":"2010","s":"B","c":"d1","x":0.3,"y":42},{"r":"2010","s":"B","c":"d1","x":0,"y":43.4},{"r":"2010","s":"B","c":"d1","x":0.2,"y":45.5},{"r":"2010","s":"B","c":"d1","x":0.08,"y":47.6},{"r":"2010","s":"B","c":"d1","x":0.25,"y":50},{"r":"2010","s":"B","c":"d1","x":0,"y":53.1},
{"r":"2010","s":"B","c":"d2","x":2.7,"y":56.5},{"r":"2010","s":"B","c":"d2","x":3.2,"y":57.5},{"r":"2010","s":"B","c":"d2","x":3.75,"y":57},{"r":"2010","s":"B","c":"d2","x":3.3,"y":55.8},{"r":"2010","s":"B","c":"d2","x":2.7,"y":56.5},
{"r":"2010","s":"B","c":"d3","x":0.93,"y":48.3},{"r":"2010","s":"B","c":"d3","x":1.18,"y":49.7},{"r":"2010","s":"B","c":"d3","x":1.94,"y":50.3},{"r":"2010","s":"B","c":"d3","x":2.37,"y":49},{"r":"2010","s":"B","c":"d3","x":2.79,"y":47.6},{"r":"2010","s":"B","c":"d3","x":2.96,"y":45.5},{"r":"2010","s":"B","c":"d3","x":2.79,"y":42.1},{"r":"2010","s":"B","c":"d3","x":2.96,"y":40},{"r":"2010","s":"B","c":"d3","x":2.54,"y":39.3},{"r":"2010","s":"B","c":"d3","x":2.03,"y":38.6},{"r":"2010","s":"B","c":"d3","x":1.69,"y":39.3},{"r":"2010","s":"B","c":"d3","x":1.35,"y":38.9},{"r":"2010","s":"B","c":"d3","x":1.15,"y":40.7},{"r":"2010","s":"B","c":"d3","x":1.18,"y":44.1},{"r":"2010","s":"B","c":"d3","x":0.93,"y":46.2},{"r":"2010","s":"B","c":"d3","x":0.93,"y":48.3},
{"r":"2010","s":"B","c":"d4","x":1.35,"y":42.5},{"r":"2010","s":"B","c":"d4","x":1.9,"y":43.5},{"r":"2010","s":"B","c":"d4","x":2.5,"y":43},{"r":"2010","s":"B","c":"d4","x":2.6,"y":41.5},{"r":"2010","s":"B","c":"d4","x":2.1,"y":40.5},{"r":"2010","s":"B","c":"d4","x":1.4,"y":40.7},{"r":"2010","s":"B","c":"d4","x":1.35,"y":42.5},
{"r":"2010","s":"B","c":"d5","x":4.06,"y":68},{"r":"2010","s":"B","c":"d5","x":4.31,"y":68},
{"r":"2010","s":"B","c":"d6","x":1.35,"y":33.1},{"r":"2010","s":"B","c":"d6","x":1.77,"y":33.1},
{"r":"2010","s":"B","c":"d7","x":0.08,"y":30.3},{"r":"2010","s":"B","c":"d7","x":0.38,"y":30.9},{"r":"2010","s":"B","c":"d7","x":0.68,"y":30.3},{"r":"2010","s":"B","c":"d7","x":0.38,"y":29.7},{"r":"2010","s":"B","c":"d7","x":0.08,"y":30.3},
{"r":"2010","s":"B","c":"d8","x":0.34,"y":24.1},{"r":"2010","s":"B","c":"d8","x":0.65,"y":24.6},{"r":"2010","s":"B","c":"d8","x":1.01,"y":24.1},{"r":"2010","s":"B","c":"d8","x":0.65,"y":23.6},{"r":"2010","s":"B","c":"d8","x":0.34,"y":24.1},
{"r":"2010","s":"B","c":"d9","x":0.17,"y":33.5},{"r":"2010","s":"B","c":"d9","x":0.42,"y":34.2},{"r":"2010","s":"B","c":"d9","x":0.68,"y":33.5},{"r":"2010","s":"B","c":"d9","x":0.42,"y":32.8},{"r":"2010","s":"B","c":"d9","x":0.17,"y":33.5},
{"r":"2010","s":"B","c":"d10","x":10.48,"y":60.3},{"r":"2010","s":"B","c":"d10","x":11.0,"y":61.1},{"r":"2010","s":"B","c":"d10","x":11.58,"y":60.5},{"r":"2010","s":"B","c":"d10","x":11.2,"y":59.3},{"r":"2010","s":"B","c":"d10","x":11.0,"y":58},{"r":"2010","s":"B","c":"d10","x":10.8,"y":59.3},{"r":"2010","s":"B","c":"d10","x":10.48,"y":60.3},
{"r":"2010","s":"B","c":"d11","x":5.35,"y":60.3},{"r":"2010","s":"B","c":"d11","x":5.6,"y":60.6},{"r":"2010","s":"B","c":"d11","x":5.75,"y":59.6},{"r":"2010","s":"B","c":"d11","x":5.5,"y":59},{"r":"2010","s":"B","c":"d11","x":5.35,"y":60.3},
{"r":"2010","s":"B","m":1,"x":0.9,"y":57.9},{"r":"2010","s":"B","m":1,"x":1.91,"y":41.8},{"r":"2010","s":"B","m":1,"x":5.32,"y":59.3},{"r":"2010","s":"B","m":1,"x":10.99,"y":59.6},

{"r":"2017","s":"R","c":"e1","x":0.02,"y":60.6},{"r":"2017","s":"R","c":"e1","x":0.56,"y":62.2},{"r":"2017","s":"R","c":"e1","x":1.06,"y":61.2},{"r":"2017","s":"R","c":"e1","x":1.49,"y":62.6},{"r":"2017","s":"R","c":"e1","x":1.99,"y":62.6},{"r":"2017","s":"R","c":"e1","x":2.67,"y":63.6},{"r":"2017","s":"R","c":"e1","x":3.26,"y":62.2},{"r":"2017","s":"R","c":"e1","x":3.93,"y":62.6},{"r":"2017","s":"R","c":"e1","x":4.44,"y":65.4},{"r":"2017","s":"R","c":"e1","x":4.95,"y":66.3},{"r":"2017","s":"R","c":"e1","x":5.79,"y":65.4},{"r":"2017","s":"R","c":"e1","x":6.3,"y":62.6},{"r":"2017","s":"R","c":"e1","x":6.8,"y":59.4},{"r":"2017","s":"R","c":"e1","x":6.3,"y":57.8},{"r":"2017","s":"R","c":"e1","x":5.87,"y":55.7},{"r":"2017","s":"R","c":"e1","x":5.62,"y":53.7},{"r":"2017","s":"R","c":"e1","x":5.11,"y":54.3},{"r":"2017","s":"R","c":"e1","x":4.44,"y":56.4},{"r":"2017","s":"R","c":"e1","x":4.19,"y":54.3},{"r":"2017","s":"R","c":"e1","x":4.1,"y":50.2},{"r":"2017","s":"R","c":"e1","x":3.76,"y":47.4},{"r":"2017","s":"R","c":"e1","x":3.09,"y":46.1},{"r":"2017","s":"R","c":"e1","x":2.24,"y":44.7},{"r":"2017","s":"R","c":"e1","x":2.08,"y":40.6},{"r":"2017","s":"R","c":"e1","x":1.99,"y":35.7},{"r":"2017","s":"R","c":"e1","x":1.4,"y":35},{"r":"2017","s":"R","c":"e1","x":1.15,"y":30.2},{"r":"2017","s":"R","c":"e1","x":1.06,"y":24.7},{"r":"2017","s":"R","c":"e1","x":1.06,"y":19.2},{"r":"2017","s":"R","c":"e1","x":0.89,"y":15.7},{"r":"2017","s":"R","c":"e1","x":0.56,"y":13},{"r":"2017","s":"R","c":"e1","x":0.14,"y":13.7},{"r":"2017","s":"R","c":"e1","x":0.02,"y":17.8},{"r":"2017","s":"R","c":"e1","x":-0.08,"y":23.3},{"r":"2017","s":"R","c":"e1","x":-0.2,"y":30.2},{"r":"2017","s":"R","c":"e1","x":-0.25,"y":38.5},{"r":"2017","s":"R","c":"e1","x":-0.2,"y":46.8},{"r":"2017","s":"R","c":"e1","x":-0.08,"y":55},{"r":"2017","s":"R","c":"e1","x":0.02,"y":60.6},
{"r":"2017","s":"R","c":"e2","x":0.05,"y":57.8},{"r":"2017","s":"R","c":"e2","x":0.73,"y":59.2},{"r":"2017","s":"R","c":"e2","x":1.4,"y":59.9},{"r":"2017","s":"R","c":"e2","x":2.24,"y":60.6},{"r":"2017","s":"R","c":"e2","x":3.09,"y":59.2},{"r":"2017","s":"R","c":"e2","x":3.76,"y":57.1},{"r":"2017","s":"R","c":"e2","x":4.02,"y":52.3},{"r":"2017","s":"R","c":"e2","x":3.6,"y":48.8},{"r":"2017","s":"R","c":"e2","x":2.75,"y":47.4},{"r":"2017","s":"R","c":"e2","x":1.91,"y":45.4},{"r":"2017","s":"R","c":"e2","x":1.74,"y":39.9},{"r":"2017","s":"R","c":"e2","x":1.57,"y":35.7},{"r":"2017","s":"R","c":"e2","x":1.23,"y":32.3},{"r":"2017","s":"R","c":"e2","x":0.98,"y":24.7},{"r":"2017","s":"R","c":"e2","x":0.81,"y":19.2},{"r":"2017","s":"R","c":"e2","x":0.3,"y":17.8},{"r":"2017","s":"R","c":"e2","x":0.05,"y":21.9},{"r":"2017","s":"R","c":"e2","x":-0.08,"y":31.6},{"r":"2017","s":"R","c":"e2","x":-0.08,"y":41.2},{"r":"2017","s":"R","c":"e2","x":-0.03,"y":50.9},{"r":"2017","s":"R","c":"e2","x":0.05,"y":57.8},
{"r":"2017","s":"R","c":"e3","x":0.22,"y":54.3},{"r":"2017","s":"R","c":"e3","x":0.89,"y":55.7},{"r":"2017","s":"R","c":"e3","x":1.4,"y":54.3},{"r":"2017","s":"R","c":"e3","x":1.65,"y":50.2},{"r":"2017","s":"R","c":"e3","x":1.57,"y":45.4},{"r":"2017","s":"R","c":"e3","x":1.32,"y":38.5},{"r":"2017","s":"R","c":"e3","x":1.15,"y":31.6},{"r":"2017","s":"R","c":"e3","x":0.89,"y":26.1},{"r":"2017","s":"R","c":"e3","x":0.39,"y":25.4},{"r":"2017","s":"R","c":"e3","x":0.14,"y":31.6},{"r":"2017","s":"R","c":"e3","x":0.08,"y":41.2},{"r":"2017","s":"R","c":"e3","x":0.14,"y":49.5},{"r":"2017","s":"R","c":"e3","x":0.22,"y":54.3},
{"r":"2017","s":"R","c":"e4","x":0.47,"y":51.6},{"r":"2017","s":"R","c":"e4","x":1.06,"y":51.6},{"r":"2017","s":"R","c":"e4","x":1.4,"y":48.1},{"r":"2017","s":"R","c":"e4","x":1.23,"y":44},{"r":"2017","s":"R","c":"e4","x":0.89,"y":38.5},{"r":"2017","s":"R","c":"e4","x":0.56,"y":38.5},{"r":"2017","s":"R","c":"e4","x":0.39,"y":44},{"r":"2017","s":"R","c":"e4","x":0.35,"y":48.1},{"r":"2017","s":"R","c":"e4","x":0.47,"y":51.6},
{"r":"2017","s":"R","c":"e5","x":0.75,"y":50},{"r":"2017","s":"R","c":"e5","x":1.1,"y":50.5},{"r":"2017","s":"R","c":"e5","x":1.35,"y":48.7},{"r":"2017","s":"R","c":"e5","x":1.15,"y":47},{"r":"2017","s":"R","c":"e5","x":0.8,"y":47.2},{"r":"2017","s":"R","c":"e5","x":0.65,"y":48.6},{"r":"2017","s":"R","c":"e5","x":0.75,"y":50},
{"r":"2017","s":"R","c":"e6","x":0.3,"y":29.3},{"r":"2017","s":"R","c":"e6","x":0.5,"y":30.3},{"r":"2017","s":"R","c":"e6","x":0.73,"y":29.3},{"r":"2017","s":"R","c":"e6","x":0.5,"y":28.4},{"r":"2017","s":"R","c":"e6","x":0.3,"y":29.3},
{"r":"2017","s":"R","c":"e7","x":0.3,"y":15.7},{"r":"2017","s":"R","c":"e7","x":0.5,"y":16.5},{"r":"2017","s":"R","c":"e7","x":0.73,"y":15.7},{"r":"2017","s":"R","c":"e7","x":0.5,"y":15},{"r":"2017","s":"R","c":"e7","x":0.3,"y":15.7},
{"r":"2017","s":"R","c":"e8","x":0.19,"y":9.7},{"r":"2017","s":"R","c":"e8","x":0.76,"y":9.7},{"r":"2017","s":"R","c":"e8","x":0.76,"y":9.3},{"r":"2017","s":"R","c":"e8","x":0.19,"y":9.3},{"r":"2017","s":"R","c":"e8","x":0.19,"y":9.7},
{"r":"2017","s":"R","c":"e9","x":1.99,"y":56.4},{"r":"2017","s":"R","c":"e9","x":2.92,"y":57.1},{"r":"2017","s":"R","c":"e9","x":3.6,"y":55},{"r":"2017","s":"R","c":"e9","x":3.76,"y":51.6},{"r":"2017","s":"R","c":"e9","x":3.26,"y":50.2},{"r":"2017","s":"R","c":"e9","x":2.58,"y":50.9},{"r":"2017","s":"R","c":"e9","x":1.99,"y":51.6},{"r":"2017","s":"R","c":"e9","x":1.82,"y":53.7},{"r":"2017","s":"R","c":"e9","x":1.99,"y":56.4},
{"r":"2017","s":"R","c":"e10","x":2.5,"y":55},{"r":"2017","s":"R","c":"e10","x":3.0,"y":55.3},{"r":"2017","s":"R","c":"e10","x":3.35,"y":53.8},{"r":"2017","s":"R","c":"e10","x":3.0,"y":52.6},{"r":"2017","s":"R","c":"e10","x":2.55,"y":52.8},{"r":"2017","s":"R","c":"e10","x":2.4,"y":54},{"r":"2017","s":"R","c":"e10","x":2.5,"y":55},
{"r":"2017","s":"R","c":"e11","x":1.91,"y":67.4},{"r":"2017","s":"R","c":"e11","x":2.3,"y":67.9},{"r":"2017","s":"R","c":"e11","x":2.67,"y":67.4},{"r":"2017","s":"R","c":"e11","x":2.3,"y":66.9},{"r":"2017","s":"R","c":"e11","x":1.91,"y":67.4},
{"r":"2017","s":"R","c":"e12","x":3.09,"y":44.7},{"r":"2017","s":"R","c":"e12","x":3.4,"y":45.3},{"r":"2017","s":"R","c":"e12","x":3.68,"y":44.7},{"r":"2017","s":"R","c":"e12","x":3.4,"y":44.1},{"r":"2017","s":"R","c":"e12","x":3.09,"y":44.7},
{"r":"2017","s":"R","c":"e13","x":0.65,"y":66.3},{"r":"2017","s":"R","c":"e13","x":0.73,"y":66.3},
{"r":"2017","s":"R","c":"e14","x":4.27,"y":64},{"r":"2017","s":"R","c":"e14","x":5.11,"y":65.4},{"r":"2017","s":"R","c":"e14","x":5.79,"y":63.3},{"r":"2017","s":"R","c":"e14","x":6.13,"y":60.6},{"r":"2017","s":"R","c":"e14","x":5.96,"y":57.1},{"r":"2017","s":"R","c":"e14","x":5.62,"y":55},{"r":"2017","s":"R","c":"e14","x":5.11,"y":55.7},{"r":"2017","s":"R","c":"e14","x":4.61,"y":57.8},{"r":"2017","s":"R","c":"e14","x":4.27,"y":60.6},{"r":"2017","s":"R","c":"e14","x":4.27,"y":64},
{"r":"2017","s":"R","c":"e15","x":4.65,"y":62.5},{"r":"2017","s":"R","c":"e15","x":5.2,"y":63.7},{"r":"2017","s":"R","c":"e15","x":5.7,"y":62.2},{"r":"2017","s":"R","c":"e15","x":5.85,"y":59.7},{"r":"2017","s":"R","c":"e15","x":5.6,"y":56.8},{"r":"2017","s":"R","c":"e15","x":5.2,"y":56.4},{"r":"2017","s":"R","c":"e15","x":4.8,"y":57.6},{"r":"2017","s":"R","c":"e15","x":4.6,"y":60},{"r":"2017","s":"R","c":"e15","x":4.65,"y":62.5},
{"r":"2017","s":"R","c":"e16","x":4.95,"y":61.3},{"r":"2017","s":"R","c":"e16","x":5.45,"y":62},{"r":"2017","s":"R","c":"e16","x":5.75,"y":60},{"r":"2017","s":"R","c":"e16","x":5.6,"y":58},{"r":"2017","s":"R","c":"e16","x":5.2,"y":57.8},{"r":"2017","s":"R","c":"e16","x":4.95,"y":59.4},{"r":"2017","s":"R","c":"e16","x":4.95,"y":61.3},
{"r":"2017","s":"R","c":"e17","x":5.2,"y":60.3},{"r":"2017","s":"R","c":"e17","x":5.5,"y":60.6},{"r":"2017","s":"R","c":"e17","x":5.65,"y":59.2},{"r":"2017","s":"R","c":"e17","x":5.4,"y":58.5},{"r":"2017","s":"R","c":"e17","x":5.2,"y":59.3},{"r":"2017","s":"R","c":"e17","x":5.2,"y":60.3},
{"r":"2017","s":"R","c":"e18","x":5.37,"y":46.3},{"r":"2017","s":"R","c":"e18","x":5.48,"y":46.8},{"r":"2017","s":"R","c":"e18","x":5.59,"y":46.3},{"r":"2017","s":"R","c":"e18","x":5.48,"y":45.8},{"r":"2017","s":"R","c":"e18","x":5.37,"y":46.3},
{"r":"2017","s":"R","c":"e19","x":7.22,"y":62.2},{"r":"2017","s":"R","c":"e19","x":7.98,"y":63.6},{"r":"2017","s":"R","c":"e19","x":8.4,"y":66.1},{"r":"2017","s":"R","c":"e19","x":8.57,"y":68.6},{"r":"2017","s":"R","c":"e19","x":9.16,"y":70.2},{"r":"2017","s":"R","c":"e19","x":10.0,"y":70.5},{"r":"2017","s":"R","c":"e19","x":10.68,"y":69.5},{"r":"2017","s":"R","c":"e19","x":11.02,"y":67.4},{"r":"2017","s":"R","c":"e19","x":11.1,"y":64.7},{"r":"2017","s":"R","c":"e19","x":10.94,"y":60.6},{"r":"2017","s":"R","c":"e19","x":10.89,"y":55.3},{"r":"2017","s":"R","c":"e19","x":10.43,"y":55.7},{"r":"2017","s":"R","c":"e19","x":9.92,"y":56.7},{"r":"2017","s":"R","c":"e19","x":9.67,"y":60.6},{"r":"2017","s":"R","c":"e19","x":9.16,"y":61.5},{"r":"2017","s":"R","c":"e19","x":8.66,"y":61.5},{"r":"2017","s":"R","c":"e19","x":8.15,"y":60.3},{"r":"2017","s":"R","c":"e19","x":7.65,"y":60.8},{"r":"2017","s":"R","c":"e19","x":7.22,"y":62.2},
{"r":"2017","s":"R","c":"e20","x":9.5,"y":63.5},{"r":"2017","s":"R","c":"e20","x":9.8,"y":66},{"r":"2017","s":"R","c":"e20","x":10.4,"y":66.5},{"r":"2017","s":"R","c":"e20","x":10.8,"y":64.5},{"r":"2017","s":"R","c":"e20","x":10.85,"y":61.5},{"r":"2017","s":"R","c":"e20","x":10.5,"y":58.5},{"r":"2017","s":"R","c":"e20","x":10.0,"y":58},{"r":"2017","s":"R","c":"e20","x":9.6,"y":60},{"r":"2017","s":"R","c":"e20","x":9.5,"y":63.5},
{"r":"2017","s":"R","c":"e21","x":9.95,"y":63.5},{"r":"2017","s":"R","c":"e21","x":10.4,"y":64.2},{"r":"2017","s":"R","c":"e21","x":10.65,"y":62.5},{"r":"2017","s":"R","c":"e21","x":10.45,"y":60.8},{"r":"2017","s":"R","c":"e21","x":10.05,"y":61},{"r":"2017","s":"R","c":"e21","x":9.9,"y":62.3},{"r":"2017","s":"R","c":"e21","x":9.95,"y":63.5},
{"r":"2017","s":"R","c":"e22","x":9.67,"y":68.8},{"r":"2017","s":"R","c":"e22","x":10.18,"y":68.8},
{"r":"2017","s":"R","c":"e23","x":10.62,"y":19.6},{"r":"2017","s":"R","c":"e23","x":10.7,"y":19.6},
{"r":"2017","s":"R","m":1,"x":1.08,"y":48.7},{"r":"2017","s":"R","m":1,"x":2.92,"y":53.8},{"r":"2017","s":"R","m":1,"x":5.45,"y":59.4},{"r":"2017","s":"R","m":1,"x":10.35,"y":62.6},

{"r":"2017","s":"B","c":"f1","x":4.73,"y":64.6},{"r":"2017","s":"B","c":"f1","x":5.41,"y":66},{"r":"2017","s":"B","c":"f1","x":5.92,"y":66.3},{"r":"2017","s":"B","c":"f1","x":6.42,"y":63.9},{"r":"2017","s":"B","c":"f1","x":6.51,"y":61.2},{"r":"2017","s":"B","c":"f1","x":6.68,"y":58.5},{"r":"2017","s":"B","c":"f1","x":6.9,"y":57.1},{"r":"2017","s":"B","c":"f1","x":6.42,"y":56.1},{"r":"2017","s":"B","c":"f1","x":5.92,"y":56.4},{"r":"2017","s":"B","c":"f1","x":5.58,"y":57.8},{"r":"2017","s":"B","c":"f1","x":5.24,"y":59.2},{"r":"2017","s":"B","c":"f1","x":5.07,"y":61.9},{"r":"2017","s":"B","c":"f1","x":4.73,"y":63},{"r":"2017","s":"B","c":"f1","x":4.73,"y":64.6},
{"r":"2017","s":"B","c":"f2","x":0.85,"y":59},{"r":"2017","s":"B","c":"f2","x":1.1,"y":60.4},{"r":"2017","s":"B","c":"f2","x":1.52,"y":60.4},{"r":"2017","s":"B","c":"f2","x":1.86,"y":59},{"r":"2017","s":"B","c":"f2","x":1.94,"y":55.6},{"r":"2017","s":"B","c":"f2","x":2.11,"y":52.1},{"r":"2017","s":"B","c":"f2","x":2.54,"y":50.8},{"r":"2017","s":"B","c":"f2","x":2.96,"y":52.8},{"r":"2017","s":"B","c":"f2","x":3.38,"y":53.8},{"r":"2017","s":"B","c":"f2","x":3.89,"y":54.2},{"r":"2017","s":"B","c":"f2","x":3.72,"y":51.4},{"r":"2017","s":"B","c":"f2","x":3.47,"y":50.1},{"r":"2017","s":"B","c":"f2","x":3.8,"y":48.7},{"r":"2017","s":"B","c":"f2","x":3.72,"y":45.2},{"r":"2017","s":"B","c":"f2","x":3.41,"y":43.2},{"r":"2017","s":"B","c":"f2","x":3.55,"y":40.4},{"r":"2017","s":"B","c":"f2","x":3.04,"y":40.4},{"r":"2017","s":"B","c":"f2","x":2.54,"y":39},{"r":"2017","s":"B","c":"f2","x":2.2,"y":38.3},{"r":"2017","s":"B","c":"f2","x":1.77,"y":37.7},{"r":"2017","s":"B","c":"f2","x":1.52,"y":39},{"r":"2017","s":"B","c":"f2","x":1.35,"y":41.1},{"r":"2017","s":"B","c":"f2","x":1.01,"y":43.2},{"r":"2017","s":"B","c":"f2","x":0.68,"y":44.6},{"r":"2017","s":"B","c":"f2","x":0.25,"y":44.6},{"r":"2017","s":"B","c":"f2","x":0.17,"y":46.6},{"r":"2017","s":"B","c":"f2","x":0.51,"y":47.3},{"r":"2017","s":"B","c":"f2","x":0.34,"y":49.4},{"r":"2017","s":"B","c":"f2","x":0.68,"y":50.8},{"r":"2017","s":"B","c":"f2","x":0.25,"y":52.4},{"r":"2017","s":"B","c":"f2","x":0.59,"y":54.2},{"r":"2017","s":"B","c":"f2","x":0.93,"y":54.9},{"r":"2017","s":"B","c":"f2","x":0.88,"y":57},{"r":"2017","s":"B","c":"f2","x":0.85,"y":59},
{"r":"2017","s":"B","c":"f3","x":1.52,"y":45.2},{"r":"2017","s":"B","c":"f3","x":1.86,"y":46.6},{"r":"2017","s":"B","c":"f3","x":2.37,"y":47.7},{"r":"2017","s":"B","c":"f3","x":2.96,"y":47.3},{"r":"2017","s":"B","c":"f3","x":3.13,"y":45.2},{"r":"2017","s":"B","c":"f3","x":3.04,"y":42.5},{"r":"2017","s":"B","c":"f3","x":2.71,"y":40.4},{"r":"2017","s":"B","c":"f3","x":2.2,"y":40.4},{"r":"2017","s":"B","c":"f3","x":1.77,"y":41.1},{"r":"2017","s":"B","c":"f3","x":1.49,"y":42.5},{"r":"2017","s":"B","c":"f3","x":1.52,"y":45.2},
{"r":"2017","s":"B","c":"f4","x":1.75,"y":43.8},{"r":"2017","s":"B","c":"f4","x":2.1,"y":44.6},{"r":"2017","s":"B","c":"f4","x":2.55,"y":44},{"r":"2017","s":"B","c":"f4","x":2.45,"y":42.6},{"r":"2017","s":"B","c":"f4","x":2.05,"y":42.3},{"r":"2017","s":"B","c":"f4","x":1.75,"y":43.8},
{"r":"2017","s":"B","c":"f5","x":0.93,"y":58.3},{"r":"2017","s":"B","c":"f5","x":1.35,"y":59},{"r":"2017","s":"B","c":"f5","x":1.69,"y":57.7},{"r":"2017","s":"B","c":"f5","x":1.69,"y":54.2},{"r":"2017","s":"B","c":"f5","x":1.35,"y":53.5},{"r":"2017","s":"B","c":"f5","x":1.01,"y":54.9},{"r":"2017","s":"B","c":"f5","x":0.93,"y":58.3},
{"r":"2017","s":"B","c":"f6","x":1.25,"y":56.7},{"r":"2017","s":"B","c":"f6","x":1.45,"y":57},{"r":"2017","s":"B","c":"f6","x":1.6,"y":56},{"r":"2017","s":"B","c":"f6","x":1.45,"y":55.1},{"r":"2017","s":"B","c":"f6","x":1.25,"y":55.5},{"r":"2017","s":"B","c":"f6","x":1.25,"y":56.7},
{"r":"2017","s":"B","c":"f7","x":1.18,"y":64.3},{"r":"2017","s":"B","c":"f7","x":1.43,"y":64.8},{"r":"2017","s":"B","c":"f7","x":1.69,"y":64.3},{"r":"2017","s":"B","c":"f7","x":1.43,"y":63.8},{"r":"2017","s":"B","c":"f7","x":1.18,"y":64.3},
{"r":"2017","s":"B","c":"f8","x":1.1,"y":61.8},{"r":"2017","s":"B","c":"f8","x":1.35,"y":62.3},{"r":"2017","s":"B","c":"f8","x":1.6,"y":61.8},{"r":"2017","s":"B","c":"f8","x":1.35,"y":61.3},{"r":"2017","s":"B","c":"f8","x":1.1,"y":61.8},
{"r":"2017","s":"B","c":"f9","x":3.89,"y":58.3},{"r":"2017","s":"B","c":"f9","x":4.27,"y":58.9},{"r":"2017","s":"B","c":"f9","x":4.65,"y":58.3},{"r":"2017","s":"B","c":"f9","x":4.27,"y":57.7},{"r":"2017","s":"B","c":"f9","x":3.89,"y":58.3},
{"r":"2017","s":"B","c":"f10","x":3.04,"y":55.3},{"r":"2017","s":"B","c":"f10","x":3.38,"y":55.8},{"r":"2017","s":"B","c":"f10","x":3.72,"y":55.3},{"r":"2017","s":"B","c":"f10","x":3.38,"y":54.8},{"r":"2017","s":"B","c":"f10","x":3.04,"y":55.3},
{"r":"2017","s":"B","c":"f11","x":4.4,"y":51.4},{"r":"2017","s":"B","c":"f11","x":4.65,"y":51.4},
{"r":"2017","s":"B","c":"f12","x":0.42,"y":48.3},{"r":"2017","s":"B","c":"f12","x":0.68,"y":48.3},
{"r":"2017","s":"B","c":"f13","x":1.6,"y":34.6},{"r":"2017","s":"B","c":"f13","x":1.86,"y":34.6},
{"r":"2017","s":"B","c":"f14","x":3.04,"y":35.6},{"r":"2017","s":"B","c":"f14","x":3.35,"y":35.6},
{"r":"2017","s":"B","c":"f15","x":7.35,"y":56.3},{"r":"2017","s":"B","c":"f15","x":7.69,"y":56.3},
{"r":"2017","s":"B","c":"f16","x":8.7,"y":59.3},{"r":"2017","s":"B","c":"f16","x":8.95,"y":59.6},{"r":"2017","s":"B","c":"f16","x":9.2,"y":59.3},{"r":"2017","s":"B","c":"f16","x":8.95,"y":59},{"r":"2017","s":"B","c":"f16","x":8.7,"y":59.3},
{"r":"2017","s":"B","c":"f17","x":11.5,"y":59},{"r":"2017","s":"B","c":"f17","x":11.75,"y":59.6},{"r":"2017","s":"B","c":"f17","x":12.0,"y":59},{"r":"2017","s":"B","c":"f17","x":11.75,"y":58.4},{"r":"2017","s":"B","c":"f17","x":11.5,"y":59},
{"r":"2017","s":"B","c":"f18","x":0,"y":38.3},{"r":"2017","s":"B","c":"f18","x":0.59,"y":39},{"r":"2017","s":"B","c":"f18","x":1.1,"y":37.7},{"r":"2017","s":"B","c":"f18","x":0.85,"y":35.3},{"r":"2017","s":"B","c":"f18","x":0.68,"y":32.1},{"r":"2017","s":"B","c":"f18","x":0.51,"y":29.4},{"r":"2017","s":"B","c":"f18","x":0.63,"y":25.2},{"r":"2017","s":"B","c":"f18","x":0.42,"y":21.8},{"r":"2017","s":"B","c":"f18","x":0.59,"y":19},{"r":"2017","s":"B","c":"f18","x":0.51,"y":17},{"r":"2017","s":"B","c":"f18","x":0.63,"y":14.9},{"r":"2017","s":"B","c":"f18","x":0.59,"y":13.2},{"r":"2017","s":"B","c":"f18","x":0.08,"y":12.8},{"r":"2017","s":"B","c":"f18","x":-0.25,"y":14.9},{"r":"2017","s":"B","c":"f18","x":-0.08,"y":19},{"r":"2017","s":"B","c":"f18","x":-0.2,"y":21.8},{"r":"2017","s":"B","c":"f18","x":-0.08,"y":25.2},{"r":"2017","s":"B","c":"f18","x":-0.3,"y":28.7},{"r":"2017","s":"B","c":"f18","x":-0.08,"y":32.1},{"r":"2017","s":"B","c":"f18","x":-0.08,"y":35.6},{"r":"2017","s":"B","c":"f18","x":0,"y":38.3},
{"r":"2017","s":"B","c":"f19","x":0.25,"y":16.6},{"r":"2017","s":"B","c":"f19","x":0.59,"y":16.6},
{"r":"2017","s":"B","m":1,"x":1.4,"y":55.9},{"r":"2017","s":"B","m":1,"x":2.11,"y":43.4},{"r":"2017","s":"B","m":1,"x":5.83,"y":60.8},{"r":"2017","s":"B","m":1,"x":11.75,"y":58.3}
]},
"spacing": {"row": 0, "column": 0},
"facet": {
  "row": {"field": "r", "type": "nominal", "sort": ["2006", "2010", "2017"],
    "header": {"title": "|v − vₛᵧₛ| (km s⁻¹)", "titleOrient": "left", "titleFont": "DejaVu Sans", "titleFontSize": 16, "titleFontWeight": "normal", "titleColor": "black", "titlePadding": 3,
      "labelOrient": "right", "labelAngle": 90, "labelFont": "DejaVu Sans", "labelFontSize": 17, "labelColor": "black", "labelPadding": 10}},
  "column": {"field": "s", "type": "nominal", "sort": ["R", "B"],
    "header": {"labels": false, "title": "offset (\")", "titleOrient": "bottom", "titleFont": "DejaVu Sans", "titleFontSize": 15, "titleFontWeight": "normal", "titleColor": "black", "titlePadding": 5}}
},
"spec": {
  "width": 273,
  "height": 202,
  "encoding": {
    "x": {"field": "x", "type": "quantitative",
      "scale": {"domain": [-0.92, 12.9], "nice": false, "zero": false},
      "axis": {"title": null, "values": [0,1,2,3,4,5,6,7,8,9,10,11,12], "labelExpr": "datum.value % 2 == 0 ? datum.label : ''", "labelOverlap": false, "labelFlush": false,
        "grid": true, "gridColor": "#a0a0a0", "gridWidth": 1, "domain": false, "tickColor": "black", "tickSize": 4,
        "labelFont": "DejaVu Sans", "labelFontSize": 13, "labelColor": "black", "labelPadding": 3}},
    "y": {"field": "y", "type": "quantitative",
      "scale": {"domain": [-4.5, 79.5], "nice": false, "zero": false},
      "axis": {"title": null, "values": [0, 20, 40, 60], "grid": true, "gridColor": "#a0a0a0", "gridWidth": 1, "domain": false, "tickColor": "black", "tickSize": 5,
        "labelFont": "DejaVu Sans", "labelFontSize": 13, "labelColor": "black", "labelPadding": 3}}
  },
  "layer": [
    {"transform": [{"filter": "datum.c"}],
     "mark": {"type": "line", "strokeWidth": 1, "clip": true, "interpolate": "linear"},
     "encoding": {
       "detail": {"field": "c"},
       "order": {"value": null},
       "color": {"field": "s", "type": "nominal", "scale": {"domain": ["R", "B"], "range": ["#ff0000", "#0000ff"]}, "legend": null}}},
    {"transform": [{"filter": "datum.m"}],
     "mark": {"type": "point", "shape": "M-1,0H1M0,-1V1", "size": 90, "strokeWidth": 2, "color": "black", "filled": false, "opacity": 1}},
    {"transform": [{"filter": "datum.t"}],
     "mark": {"type": "text", "font": "Liberation Sans", "fontWeight": "bold", "fontSize": 14, "color": "black"},
     "encoding": {"text": {"field": "t"}}}
  ]
},
"config": {"view": {"stroke": "black", "strokeWidth": 1}}
}
